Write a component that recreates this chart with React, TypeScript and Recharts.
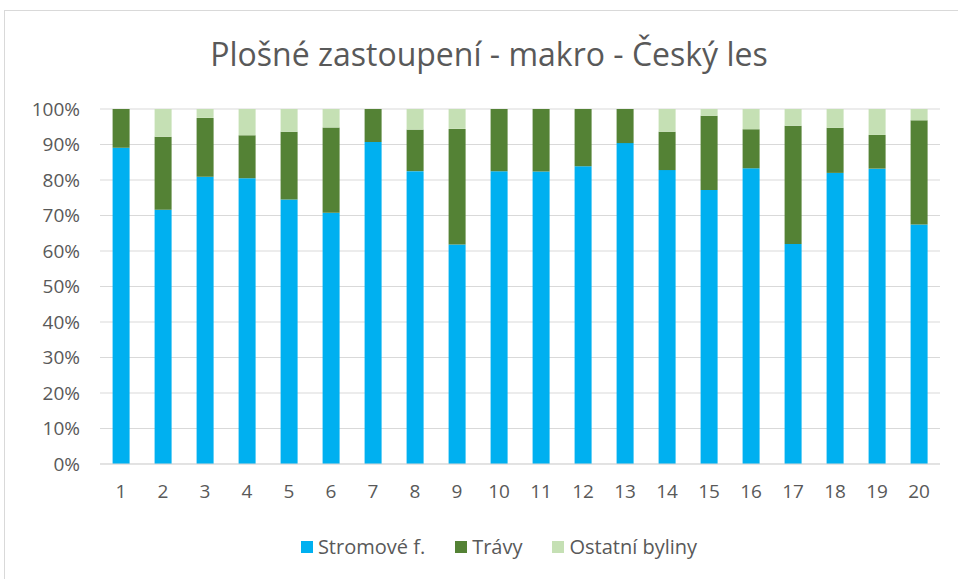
import React from "react";
import { BarChart, Bar, XAxis, YAxis, CartesianGrid, Legend } from "recharts";

const categories = ["1", "2", "3", "4", "5", "6", "7", "8", "9", "10", "11", "12", "13", "14", "15", "16", "17", "18", "19", "20"];
const stromove = [89.1, 71.6, 80.9, 80.5, 74.5, 70.8, 90.7, 82.5, 61.8, 82.5, 82.4, 83.9, 90.4, 82.8, 77.2, 83.3, 62.0, 82.0, 83.2, 67.5];
const travy = [10.9, 20.6, 16.6, 12.1, 19.1, 24.0, 9.3, 11.7, 32.6, 17.5, 17.6, 16.1, 9.6, 10.8, 20.9, 11.0, 33.3, 12.7, 9.5, 29.3];
const ostatni = [0, 7.8, 2.5, 7.4, 6.4, 5.2, 0, 5.8, 5.6, 0, 0, 0, 0, 6.4, 1.9, 5.7, 4.7, 5.3, 7.3, 3.2];
const seriesNames = ["Stromové f.", "Trávy", "Ostatní byliny"];
const yTicks = [0, 10, 20, 30, 40, 50, 60, 70, 80, 90, 100];

const data = categories.map((name, i) => ({
  name,
  stromove: stromove[i],
  travy: travy[i],
  ostatni: ostatni[i],
}));

const FONT = "'Open Sans', sans-serif";
const TEXT = "#595959";

const renderLegend = (props: any) => {
  const payload = [...(props.payload || [])].sort(
    (a: any, b: any) => seriesNames.indexOf(a.value) - seriesNames.indexOf(b.value)
  );
  return (
    <div style={{ display: "flex", justifyContent: "center", fontFamily: FONT, fontSize: 20, color: TEXT, lineHeight: "24px" }}>
      {payload.map((entry: any, i: number) => (
        <div
          key={entry.value}
          style={{ display: "flex", alignItems: "center", marginRight: i < payload.length - 1 ? 30 : 0 }}
        >
          <span style={{ width: 12, height: 12, background: entry.color, display: "inline-block", marginRight: 5 }} />
          <span>{entry.value}</span>
        </div>
      ))}
    </div>
  );
};

const App = () => {
  return (
    <div style={{ position: "absolute", left: 0, top: 0, width: 958, height: 579, overflow: "hidden", background: "#fff" }}>
      <div style={{ position: "absolute", left: 4, top: 10, width: 1100, height: 1100, border: "1px solid #d9d9d9" }} />
      <div
        style={{
          position: "absolute",
          left: 0,
          top: 32,
          width: 978,
          textAlign: "center",
          fontFamily: FONT,
          fontSize: 32,
          color: TEXT,
        }}
      >
        Plošné zastoupení - makro - Český les
      </div>
      <div style={{ position: "absolute", left: 0, top: 0 }}>
        <BarChart
          width={958}
          height={579}
          data={data}
          margin={{ top: 109, right: 18, bottom: 61, left: 0 }}
          barCategoryGap="30%"
        >
          <CartesianGrid vertical={false} stroke="#d9d9d9" strokeWidth={1} />
          <XAxis
            dataKey="name"
            tickLine={false}
            axisLine={{ stroke: "#d9d9d9" }}
            tick={{ fill: TEXT, fontSize: 19, fontFamily: FONT }}
            tickMargin={15}
            interval={0}
          />
          <YAxis
            width={100}
            domain={[0, 100]}
            ticks={yTicks}
            tickFormatter={(v: number) => `${v}%`}
            axisLine={false}
            tickLine={false}
            tick={{ fill: TEXT, fontSize: 19, fontFamily: FONT }}
            tickMargin={14}
          />
          <Legend
            verticalAlign="bottom"
            content={renderLegend}
            wrapperStyle={{ left: 40, width: 918, top: 535 }}
          />
          <Bar dataKey="stromove" name={seriesNames[0]} stackId="a" fill="#00B0F0" isAnimationActive={false} />
          <Bar dataKey="travy" name={seriesNames[1]} stackId="a" fill="#548235" isAnimationActive={false} />
          <Bar dataKey="ostatni" name={seriesNames[2]} stackId="a" fill="#C5E0B4" isAnimationActive={false} />
        </BarChart>
      </div>
    </div>
  );
};

export default App;
